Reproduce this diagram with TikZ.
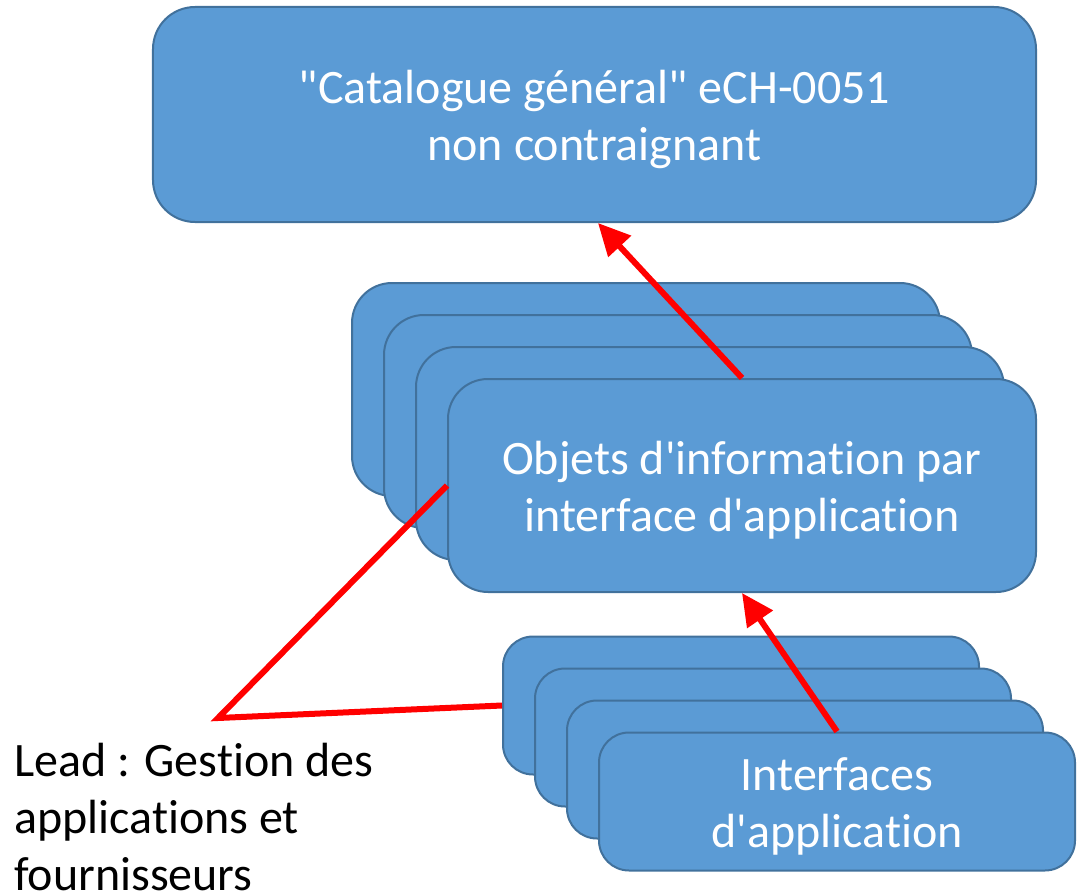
\documentclass[tikz,border=0pt]{standalone}
\usepackage{fontspec}
\setmainfont{Carlito}[Ligatures=NoCommon]
\usetikzlibrary{arrows.meta}
\definecolor{boxfill}{HTML}{5B9BD5}
\definecolor{boxline}{HTML}{41719C}
\definecolor{leadred}{HTML}{FF0000}
\newcommand{\dq}{\textquotedbl}
\newcommand{\sq}{\textquotesingle}
\begin{document}
\begin{tikzpicture}[x=1bp,y=-1bp,
  bigfont/.style={font=\fontsize{48bp}{57bp}\selectfont},
  card/.style={draw=boxline, fill=boxfill, line width=2bp, inner sep=0pt},
  cardtext/.style={label={[text=white, align=center, bigfont, inner sep=0pt, yshift=-5bp]center:#1}},
  bigcard/.style={card, rounded corners=42bp, minimum width=883bp, minimum height=215bp},
  midcard/.style={card, rounded corners=40bp, minimum width=588bp, minimum height=213bp},
  smallcard/.style={card, rounded corners=30bp, minimum width=476bp, minimum height=138bp},
  redarrow/.style={draw=leadred, line width=6bp, -{Triangle[length=32bp,width=30bp]}},
  redline/.style={draw=leadred, line width=6bp},
]
\useasboundingbox (0,0) rectangle (1077,893);

% general catalogue
\node[bigcard, cardtext={\dq Catalogue général\dq{} eCH-0051\\non contraignant}] (cat) at (594.5,114.5) {};

% stack of information objects
\node[midcard] (objA) at (646,389.5) {};
\node[midcard] (objB) at (678,421.5) {};
\node[midcard] (objC) at (710,453.5) {};
\node[midcard, cardtext={Objets d\sq information par\\interface d\sq application}] (objD) at (742,485.5) {};

% stack of application interfaces
\node[smallcard] (ifA) at (741,705.5) {};
\node[smallcard] (ifB) at (773,737.5) {};
\node[smallcard] (ifC) at (805,769.5) {};
\node[smallcard, cardtext={Interfaces\\d\sq application}] (ifD) at (837,801.5) {};

% responsibility label
\node[bigfont, align=left, anchor=west, inner sep=0pt] (lead) at (14,817)
  {Lead : Gestion des\\applications et\\fournisseurs};

% connectors
\coordinate (tip) at (598,0);
\coordinate (fork) at (218,718);
\draw[redarrow] (objD.north) -- (cat.south -| tip);
\draw[redarrow] (ifD.north) -- (objD.south);
\draw[redline] (objD.west) -- (fork) -- (ifA.west);
\end{tikzpicture}
\end{document}
